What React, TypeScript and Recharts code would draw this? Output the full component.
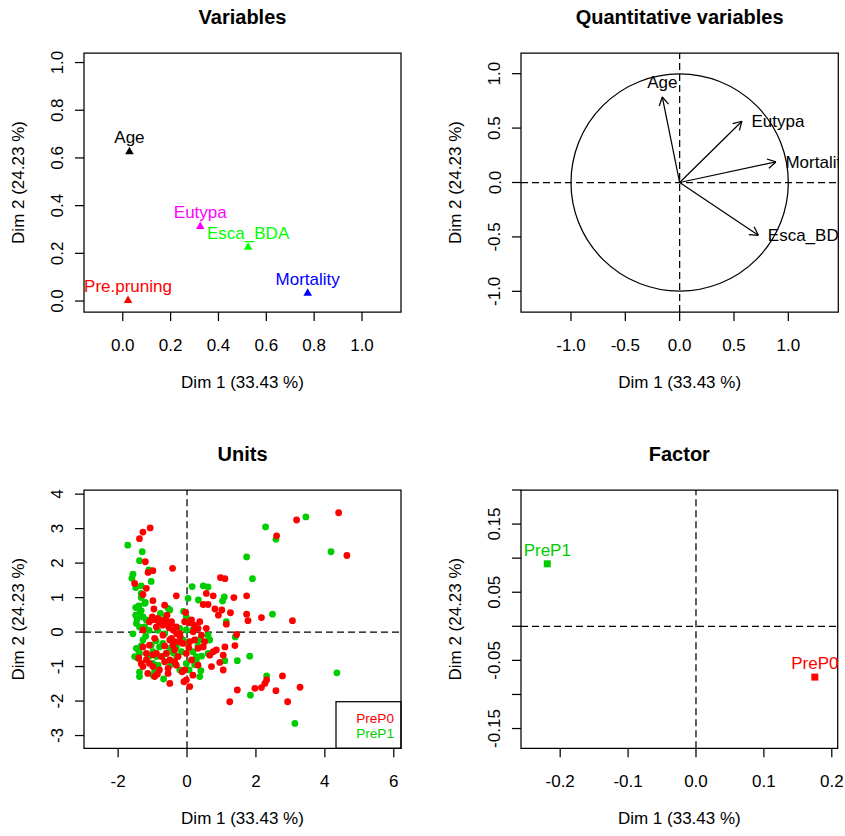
import React from 'react';
import {
  ScatterChart,
  Scatter,
  XAxis,
  YAxis,
  ReferenceArea,
  ReferenceLine,
  ReferenceDot,
  Customized,
} from 'recharts';

// ---------------- DATA ----------------
const dimLabels = ['Dim 1 (33.43 %)', 'Dim 2 (24.23 %)'];
const panelTitles = ['Variables', 'Quantitative variables', 'Units', 'Factor'];

// Panel 1: groups / variables representation
const varNames = ['Age', 'Eutypa', 'Esca_BDA', 'Mortality', 'Pre.pruning'];
const varDim1 = [0.028, 0.324, 0.524, 0.773, 0.022];
const varDim2 = [0.626, 0.313, 0.226, 0.033, 0.002];
const varTicks = [0, 0.2, 0.4, 0.6, 0.8, 1.0];

// Panel 2: correlation circle
const quantNames = ['Age', 'Eutypa', 'Mortality', 'Esca_BDA'];
const quantDim1 = [-0.16, 0.573, 0.886, 0.724];
const quantDim2 = [0.786, 0.563, 0.189, -0.485];
const quantTicks = [-1.0, -0.5, 0, 0.5, 1.0];

// Panel 3: individuals, coloured by factor level
const prep0Dim1 = [
  4.40, 3.18, 2.60, 4.64, -0.42, 0.97, 1.10, -0.31, 0.56, 0.76, 1.36, 1.73, 0.47, 0.61, 0.81, 1.01,
  1.26, 1.73, 0.91, 1.77, 2.16, 3.06, 1.14, 1.44, 1.39, 1.10, 0.95, 0.71, 1.05, 1.46, 1.24, 1.97,
  2.16, 2.26, 2.31, 2.58, 2.77, 2.92, 3.28, 0.08, -0.09, -1.28, -1.07, -1.38, -1.21, -1.13, -0.99, -1.52,
  -1.18, -0.99, -0.65, -0.96, -1.09, -0.80, -0.70, -0.46, -0.07, 0.08, 0.22, -1.28, -1.28, -1.18, -0.89, -0.75,
  -0.50, -0.41, -0.36, -0.26, -0.50, -0.21, 0.08, 0.22, 0.32, 0.13, -1.33, -1.28, -1.09, -0.99, -0.55, -0.50,
  -0.36, -0.31, -0.07, -0.02, 0.17, 0.32, -0.94, -0.70, -1.09, -0.80, -0.65, -0.21, -0.89, -0.31, 0.37, 0.22,
  0.18, 0.32, 0.56, 0.42, 0.51, 0.47, 0.66, 0.76, 0.85, 1.05, -1.28, -0.58, -1.01, -0.79, -0.04, -0.45,
  0.13, -0.95, -0.86, -0.62, -0.64, -0.52, -0.40, -0.30, -0.20, -0.35, -0.45, -0.12, -0.60, -0.99, -1.18, -0.94,
  -0.86, -0.55, -0.14, -0.65, -0.02, 0.05, -1.40, -1.14,
];
const prep0Dim2 = [
  3.46, 3.25, 2.79, 2.22, 1.85, 1.58, 1.55, 1.05, 1.12, 1.05, 1.00, 1.05, 0.80, 0.80, 0.67, 0.64,
  0.56, 0.52, 0.49, 0.33, 0.42, 0.33, 0.23, -0.07, -0.39, -0.43, -0.88, -1.00, -1.10, -1.68, -2.02, -1.63,
  -1.61, -1.49, -1.39, -1.70, -1.27, -2.02, -1.60, -1.58, -1.44, 2.90, 3.02, 2.71, 2.04, 1.73, 1.78, 1.41,
  1.27, 0.91, 0.78, 0.67, 0.30, 0.27, 0.20, 0.25, 0.30, 0.27, 0.20, 0.06, -0.43, -0.62, -0.62, -0.71,
  -0.23, -0.38, -0.52, -0.71, -0.81, -0.28, -0.28, -0.23, -0.47, -0.81, -0.91, -1.00, -0.91, -1.00, -1.20, -1.49,
  -0.86, -0.96, -1.10, -1.39, -1.25, -0.96, -0.18, -0.09, -0.38, -1.10, -0.86, -0.04, 0.15, 0.15, 0.30, 0.12,
  0.01, 0.11, 0.11, -0.09, -0.28, -0.43, -0.67, -0.57, -0.52, -0.67, 1.09, 0.49, 0.44, 0.35, 0.57, 0.30,
  0.35, 0.36, 0.40, 0.36, 0.23, 0.12, 0.05, -0.05, -0.12, -0.28, -0.18, -0.33, -0.62, -0.66, -0.81, -1.29,
  -1.22, -1.05, -1.15, -0.40, -0.62, -0.45, -0.75, -1.20,
];
const prep1Dim1 = [
  3.45, 2.28, 2.58, 4.18, 1.73, 1.90, 2.48, 0.15, 0.03, 0.33, 0.47, 0.61, 1.08, 1.03, 1.14, 1.40,
  1.46, 1.10, 1.82, 2.31, 1.84, 3.13, 4.35, 0.61, 0.66, -1.72, -1.30, -1.38, -1.11, -1.57, -1.60, -1.04,
  -1.33, -1.49, -1.33, -1.33, -1.21, -1.49, -1.37, -1.49, -1.28, -1.18, -1.57, -0.50, -0.77, -1.38, -1.38, -0.68,
  0.40, 0.37, 0.06, -1.38, -1.23, -0.55, -0.21, -0.02, 0.17, -1.47, -1.52, -1.43, -1.04, -0.99, -0.80, -0.70,
  -0.60, -0.31, -0.16, -0.12, 0.17, 0.27, -0.02, -0.99, -0.84, -0.94, -0.99, -1.40, -0.72, -0.21, -0.30, -1.38,
  -1.28, -0.50, -0.89, 0.27, 0.32, 0.27, 0.42, 0.22, 0.61, -1.40, -1.23, -1.45, -1.47, -0.55, -0.02, -1.33,
  -1.10, -0.85, -0.65, -1.20, -0.90, -0.40, -0.48, -1.10, -0.10, -0.62, -1.33, 0.38, 0.02,
];
const prep1Dim2 = [
  3.34, 3.05, 2.69, 2.33, 2.18, 1.55, 0.52, 1.32, 0.98, 0.93, 1.34, 1.31, 1.02, 0.90, 0.30, -0.14,
  -0.83, -0.83, -0.70, -1.27, -1.83, -2.65, -1.18, -0.09, -0.23, 2.52, 2.33, 2.07, 1.80, 1.68, 1.56, 1.47,
  1.34, 1.29, 1.12, 1.00, 0.86, 0.71, 0.56, 0.49, 0.44, 0.35, -0.05, 0.64, 0.54, -1.16, -1.29, -1.36,
  -1.12, -1.29, -1.10, 0.15, 0.15, 0.23, 0.11, 0.06, 0.06, -0.47, -0.71, -0.76, -0.38, -0.57, -0.43, -0.33,
  -0.62, -0.43, -0.57, -0.23, -0.57, -0.81, -0.91, -0.91, -0.96, -1.15, -1.25, -0.55, -0.70, -1.10, -0.70, -0.62,
  -0.23, -0.47, -0.71, -0.23, -0.41, -0.71, -0.70, -0.95, -0.62, 0.76, 0.83, 0.38, 0.25, 0.69, 0.44, 0.62,
  0.05, 0.05, -0.05, -0.12, -0.25, -0.60, -0.95, -0.70, 0.60, 0.42, -0.40, -0.22, -0.30,
];
const unitTicksX = [-2, 0, 2, 4, 6];
const unitTicksY = [-3, -2, -1, 0, 1, 2, 3, 4];
const legendLabels = ['PreP0', 'PreP1'];

// Panel 4: factor levels
const factorNames = ['PreP0', 'PreP1'];
const factorDim1 = [0.175, -0.219];
const factorDim2 = [-0.0745, 0.0917];
const factorTicksX = [-0.2, -0.1, 0, 0.1, 0.2];
const factorTicksY = [-0.15, -0.1, -0.05, 0, 0.05, 0.1, 0.15, 0.2];

// ---------------- STYLE / LAYOUT ----------------
const FONT = '"Liberation Sans", Arial, Helvetica, sans-serif';
const FS = 17;
const CW = 422;
const CH = 418;
const XH = 60;
const YW = 60;
const DASH = '7 4';
const LINE_W = 1.25;

const varColors: Record<string, string> = {
  Age: '#000000',
  Eutypa: '#FF00FF',
  Esca_BDA: '#00FF00',
  Mortality: '#0000FF',
  'Pre.pruning': '#FF0000',
};
const levelColors: Record<string, string> = { PreP0: '#FF0000', PreP1: '#00CD00' };
const quantLabelPos: Record<string, 'above' | 'right'> = {
  Age: 'above',
  Eutypa: 'right',
  Mortality: 'right',
  Esca_BDA: 'right',
};

type Box = { L: number; T: number; R: number; B: number };
const box1: Box = { L: 84, T: 53, R: 401, B: 312 };
const box2: Box = { L: 99, T: 53, R: 416.3, B: 312 };
const box3: Box = { L: 84, T: 72, R: 401, B: 330.3 };
const box4: Box = { L: 99, T: 72, R: 415.7, B: 330.3 };

const dom1 = { x: [-0.162, 1.163], y: [-0.046, 1.04] };
const dom2 = { x: [-1.46, 1.46], y: [-1.19, 1.19] };
const dom3 = { x: [-2.99, 6.21], y: [-3.37, 4.12] };
const dom4 = { x: [-0.2577, 0.2087], y: [-0.179, 0.2] };

const marginOf = (b: Box) => ({
  top: b.T,
  right: CW - b.R,
  bottom: CH - b.B - XH,
  left: b.L - YW,
});

// ---------------- TABLES ----------------
const varTable = varNames.map((name, i) => ({ name, x: varDim1[i], y: varDim2[i] }));
const arrowTables = quantNames.map((name, i) => [
  { name, x: 0, y: 0, tip: false },
  { name, x: quantDim1[i], y: quantDim2[i], tip: true },
]);
const prep0Table = prep0Dim1.map((x, i) => ({ x, y: prep0Dim2[i] }));
const prep1Table = prep1Dim1.map((x, i) => ({ x, y: prep1Dim2[i] }));
const factorTable = factorNames.map((name, i) => ({ name, x: factorDim1[i], y: factorDim2[i] }));

// ---------------- HELPERS ----------------
const fmt1 = (v: number) => v.toFixed(1);
const fmt0 = (v: number) => String(v);
const fmtFactorY = (v: number) => (Math.abs(Math.round(v * 100)) % 10 === 5 ? v.toFixed(2) : '');

const makeXTick = (b: Box, fmt: (v: number) => string) => (props: any) => (
  <text
    x={props.x}
    y={b.B + 39}
    textAnchor="middle"
    fontSize={FS}
    fontFamily={FONT}
    fill="#000"
  >
    {fmt(props.payload.value)}
  </text>
);

const makeYTick = (b: Box, fmt: (v: number) => string) => (props: any) => {
  const x = b.L - 20.5;
  const y = props.y;
  return (
    <text
      x={x}
      y={y}
      transform={`rotate(-90 ${x} ${y})`}
      textAnchor="middle"
      fontSize={FS}
      fontFamily={FONT}
      fill="#000"
    >
      {fmt(props.payload.value)}
    </text>
  );
};

const xAxisEl = (dom: number[], ticks: number[], b: Box, fmt: (v: number) => string) => (
  <XAxis
    type="number"
    dataKey="x"
    domain={dom}
    ticks={ticks}
    interval={0}
    allowDataOverflow
    axisLine={false}
    tickLine={{ stroke: '#000', strokeWidth: LINE_W }}
    tickSize={9}
    height={XH}
    tick={makeXTick(b, fmt)}
  />
);

const yAxisEl = (dom: number[], ticks: number[], b: Box, fmt: (v: number) => string) => (
  <YAxis
    type="number"
    dataKey="y"
    domain={dom}
    ticks={ticks}
    interval={0}
    allowDataOverflow
    axisLine={false}
    tickLine={{ stroke: '#000', strokeWidth: LINE_W }}
    tickSize={9}
    width={YW}
    tick={makeYTick(b, fmt)}
  />
);

const boxEl = (d: { x: number[]; y: number[] }) => (
  <ReferenceArea
    x1={d.x[0]}
    x2={d.x[1]}
    y1={d.y[0]}
    y2={d.y[1]}
    fill="none"
    fillOpacity={0}
    stroke="#000"
    strokeWidth={LINE_W}
    ifOverflow="visible"
  />
);

const Frame = (p: { box: Box; title: string }) => {
  const b = p.box;
  const cx = (b.L + b.R) / 2;
  const cy = (b.T + b.B) / 2;
  const yx = b.L - 60;
  return (
    <g fontFamily={FONT} fill="#000">
      <text x={cx} y={b.T - 29} textAnchor="middle" fontSize={20} fontWeight="bold">
        {p.title}
      </text>
      <text x={cx} y={b.B + 76} textAnchor="middle" fontSize={FS}>
        {dimLabels[0]}
      </text>
      <text
        x={yx}
        y={cy}
        transform={`rotate(-90 ${yx} ${cy})`}
        textAnchor="middle"
        fontSize={FS}
      >
        {dimLabels[1]}
      </text>
    </g>
  );
};

const UnitsLegend = () => {
  const b = box3;
  const left = 336;
  const top = 283.7;
  return (
    <g fontFamily={FONT}>
      <rect x={left} y={top} width={b.R - left} height={b.B - top} fill="#fff" stroke="#000" strokeWidth={LINE_W} />
      {legendLabels.map((l, i) => (
        <text key={l} x={b.R - 7} y={top + 21.5 + i * 15.2} textAnchor="end" fontSize={13.6} fill={levelColors[l]}>
          {l}
        </text>
      ))}
    </g>
  );
};

// ---------------- SHAPES ----------------
const triangleShape = (props: any) => {
  const { cx, cy, payload } = props;
  const c = varColors[payload.name];
  return (
    <g>
      <polygon points={`${cx},${cy - 5} ${cx - 4.3},${cy + 2.5} ${cx + 4.3},${cy + 2.5}`} fill={c} />
      <text x={cx} y={cy - 8.5} textAnchor="middle" fontSize={FS} fontFamily={FONT} fill={c}>
        {payload.name}
      </text>
    </g>
  );
};

const arrowShape = (props: any) => {
  const { cx, cy, payload } = props;
  if (!payload.tip) return <g />;
  const ang = Math.atan2(-payload.y, payload.x);
  const len = 9.5;
  const spread = Math.PI / 6;
  const a1 = ang + Math.PI - spread;
  const a2 = ang + Math.PI + spread;
  const pos = quantLabelPos[payload.name];
  return (
    <g>
      <line x1={cx} y1={cy} x2={cx + len * Math.cos(a1)} y2={cy + len * Math.sin(a1)} stroke="#000" strokeWidth={LINE_W} />
      <line x1={cx} y1={cy} x2={cx + len * Math.cos(a2)} y2={cy + len * Math.sin(a2)} stroke="#000" strokeWidth={LINE_W} />
      {pos === 'above' ? (
        <text x={cx} y={cy - 8.5} textAnchor="middle" fontSize={FS} fontFamily={FONT} fill="#000">
          {payload.name}
        </text>
      ) : (
        <text x={cx + 9.5} y={cy + 6} textAnchor="start" fontSize={FS} fontFamily={FONT} fill="#000">
          {payload.name}
        </text>
      )}
    </g>
  );
};

const dotShape = (color: string) => (props: any) => <circle cx={props.cx} cy={props.cy} r={3.4} fill={color} />;

const squareShape = (props: any) => {
  const { cx, cy, payload } = props;
  const c = levelColors[payload.name];
  return (
    <g>
      <rect x={cx - 3.5} y={cy - 3.5} width={7} height={7} fill={c} />
      <text x={cx} y={cy - 8} textAnchor="middle" fontSize={FS} fontFamily={FONT} fill={c}>
        {payload.name}
      </text>
    </g>
  );
};

const unitPx2 = (box2.R - box2.L) / (dom2.x[1] - dom2.x[0]);

// ---------------- APP ----------------
export default function App() {
  return (
    <div style={{ position: 'absolute', left: 0, top: 0, width: 845, height: 836, background: '#fff' }}>
      <div style={{ position: 'absolute', left: 0, top: 0 }}>
        <ScatterChart width={CW} height={CH} margin={marginOf(box1)}>
          {xAxisEl(dom1.x, varTicks, box1, fmt1)}
          {yAxisEl(dom1.y, varTicks, box1, fmt1)}
          {boxEl(dom1)}
          <Scatter data={varTable} shape={triangleShape} isAnimationActive={false} />
          <Customized component={<Frame box={box1} title={panelTitles[0]} />} />
        </ScatterChart>
      </div>

      <div style={{ position: 'absolute', left: CW, top: 0 }}>
        <ScatterChart width={CW} height={CH} margin={marginOf(box2)}>
          {xAxisEl(dom2.x, quantTicks, box2, fmt1)}
          {yAxisEl(dom2.y, quantTicks, box2, fmt1)}
          <ReferenceLine x={0} stroke="#000" strokeDasharray={DASH} strokeWidth={LINE_W} />
          <ReferenceLine y={0} stroke="#000" strokeDasharray={DASH} strokeWidth={LINE_W} />
          <ReferenceDot x={0} y={0} r={unitPx2} fill="none" stroke="#000" strokeWidth={LINE_W} />
          {arrowTables.map((t, i) => (
            <Scatter
              key={quantNames[i]}
              data={t}
              line={{ stroke: '#000', strokeWidth: LINE_W }}
              shape={arrowShape}
              isAnimationActive={false}
            />
          ))}
          {boxEl(dom2)}
          <Customized component={<Frame box={box2} title={panelTitles[1]} />} />
        </ScatterChart>
      </div>

      <div style={{ position: 'absolute', left: 0, top: CH }}>
        <ScatterChart width={CW} height={CH} margin={marginOf(box3)}>
          {xAxisEl(dom3.x, unitTicksX, box3, fmt0)}
          {yAxisEl(dom3.y, unitTicksY, box3, fmt0)}
          <ReferenceLine x={0} stroke="#000" strokeDasharray={DASH} strokeWidth={LINE_W} />
          <ReferenceLine y={0} stroke="#000" strokeDasharray={DASH} strokeWidth={LINE_W} />
          <Scatter data={prep1Table} shape={dotShape(levelColors.PreP1)} isAnimationActive={false} />
          <Scatter data={prep0Table} shape={dotShape(levelColors.PreP0)} isAnimationActive={false} />
          {boxEl(dom3)}
          <Customized component={<UnitsLegend />} />
          <Customized component={<Frame box={box3} title={panelTitles[2]} />} />
        </ScatterChart>
      </div>

      <div style={{ position: 'absolute', left: CW, top: CH }}>
        <ScatterChart width={CW} height={CH} margin={marginOf(box4)}>
          {xAxisEl(dom4.x, factorTicksX, box4, fmt1)}
          {yAxisEl(dom4.y, factorTicksY, box4, fmtFactorY)}
          <ReferenceLine x={0} stroke="#000" strokeDasharray={DASH} strokeWidth={LINE_W} />
          <ReferenceLine y={0} stroke="#000" strokeDasharray={DASH} strokeWidth={LINE_W} />
          <Scatter data={factorTable} shape={squareShape} isAnimationActive={false} />
          {boxEl(dom4)}
          <Customized component={<Frame box={box4} title={panelTitles[3]} />} />
        </ScatterChart>
      </div>
    </div>
  );
}
